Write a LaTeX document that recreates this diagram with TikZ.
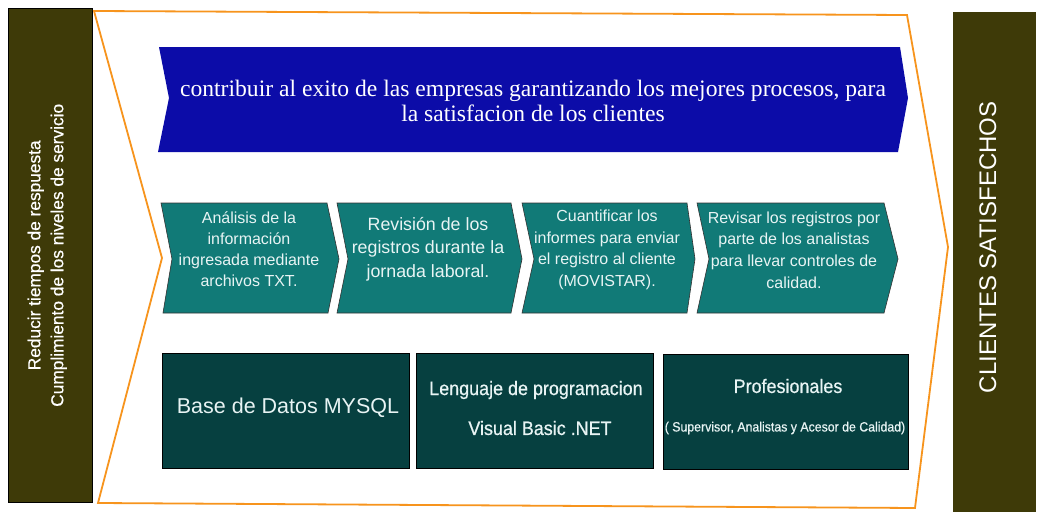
\documentclass[tikz,border=0pt]{standalone}
\usepackage{fontspec}
\setmainfont{Liberation Sans}
\newfontfamily\bannerfont{Liberation Serif}
\newfontfamily\narrowfont[FakeStretch=0.92,FakeBold=0.6]{Liberation Sans}
\newfontfamily\sidefont[FakeBold=0.5]{Liberation Sans}
\definecolor{olivebox}{RGB}{62,58,8}
\definecolor{bannerblue}{RGB}{12,12,168}
\definecolor{tealstep}{RGB}{17,122,119}
\definecolor{darkteal}{RGB}{6,64,64}
\definecolor{frameorange}{RGB}{247,148,29}
\definecolor{paletext}{RGB}{232,244,244}
\tikzset{
  sidebox/.style={fill=olivebox, draw=black, line width=0.6pt, anchor=north west, inner sep=0pt},
  stepshape/.style={fill=tealstep, draw=black!80, line width=0.6pt},
  steptext/.style={text=paletext, align=center, inner sep=0pt},
  resbox/.style={fill=darkteal, draw=black, line width=0.8pt, anchor=north west, inner sep=0pt},
  restext/.style={text=paletext, inner sep=0pt},
}
\begin{document}
\begin{tikzpicture}[x=1pt,y=-1pt]
\useasboundingbox (0,0) rectangle (1045,522);
\fill[white] (0,0) rectangle (1045,522);

% side boxes
\node[sidebox, minimum width=84pt, minimum height=494pt] (left) at (8,8) {};
\node[rotate=90, text=white, align=center, inner sep=0pt,
      font=\sidefont\fontsize{17.3}{23}\selectfont] (lefttext) at ([xshift=-3pt]left.center)
      {Reducir tiempos de respuesta\\Cumplimiento de los niveles de servicio};
\node[sidebox, draw=none, minimum width=83pt, minimum height=500pt] (right) at (953,12) {};
\node[rotate=90, text=white, inner sep=0pt, font=\fontsize{24}{28}\selectfont]
      (righttext) at ([xshift=-7pt,yshift=15pt]right.center) {CLIENTES SATISFECHOS};

% orange frame chevron
\draw[frameorange, line width=1.8pt, line join=miter]
  (94,11) -- (907,15) -- (948,247) -- (915,508) -- (98,503) -- (162,258) -- cycle;

% blue banner
\fill[bannerblue] (159,47) -- (900,47) -- (908,98) -- (898,152) -- (158,152) -- (169,98) -- cycle;
\node[text=white, align=center, inner sep=0pt, font=\bannerfont\fontsize{23.6}{25}\selectfont]
  (banner) at (533,101)
  {contribuir al exito de las empresas garantizando los mejores procesos, para\\la satisfacion de los clientes};

% teal steps
\draw[stepshape] (161,203) -- (327,203) -- (339,259) -- (328,313) -- (163,313) -- (172,259) -- cycle;
\draw[stepshape] (337,203) -- (511,203) -- (522,259) -- (511,313) -- (337,313) -- (348,259) -- cycle;
\draw[stepshape] (522,203) -- (687,203) -- (695,259) -- (687,313) -- (522,313) -- (534,259) -- cycle;
\draw[stepshape] (697,203) -- (884,203) -- (898,259) -- (884,313) -- (697,313) -- (709,259) -- cycle;

\node[steptext, font=\fontsize{16}{21}\selectfont] (s1) at (249,249)
  {Análisis de la\\información\\ingresada mediante\\archivos TXT.};
\node[steptext, font=\fontsize{17.8}{23.5}\selectfont] (s2) at (428,249)
  {Revisión de los\\registros durante la\\jornada laboral.};
\node[steptext, font=\fontsize{16}{21.7}\selectfont] (s3) at (607,250)
  {Cuantificar los\\informes para enviar\\el registro al cliente\\(MOVISTAR).};
\node[steptext, font=\fontsize{16}{21.7}\selectfont] (s4) at (794,250)
  {Revisar los registros por\\parte de los analistas\\para llevar controles de\\calidad.};

% resource boxes
\node[resbox, minimum width=247pt, minimum height=115pt] (r1) at (162,353) {};
\node[resbox, minimum width=237pt, minimum height=115pt] (r2) at (416,353) {};
\node[resbox, minimum width=245pt, minimum height=115pt] (r3) at (663,354) {};

\node[restext, font=\fontsize{21.5}{24}\selectfont] (r1t) at (288,408) {Base de Datos MYSQL};
\node[restext, font=\narrowfont\fontsize{19.5}{22}\selectfont] (r2a) at (536,390) {Lenguaje de programacion};
\node[restext, font=\narrowfont\fontsize{19.5}{22}\selectfont] (r2b) at (540,428) {Visual Basic .NET};
\node[restext, font=\narrowfont\fontsize{19.5}{22}\selectfont] (r3a) at (788,386) {Profesionales};
\node[restext, font=\narrowfont\fontsize{13.4}{16}\selectfont] (r3b) at (785,428) {( Supervisor, Analistas y Acesor de Calidad)};
\end{tikzpicture}
\end{document}
